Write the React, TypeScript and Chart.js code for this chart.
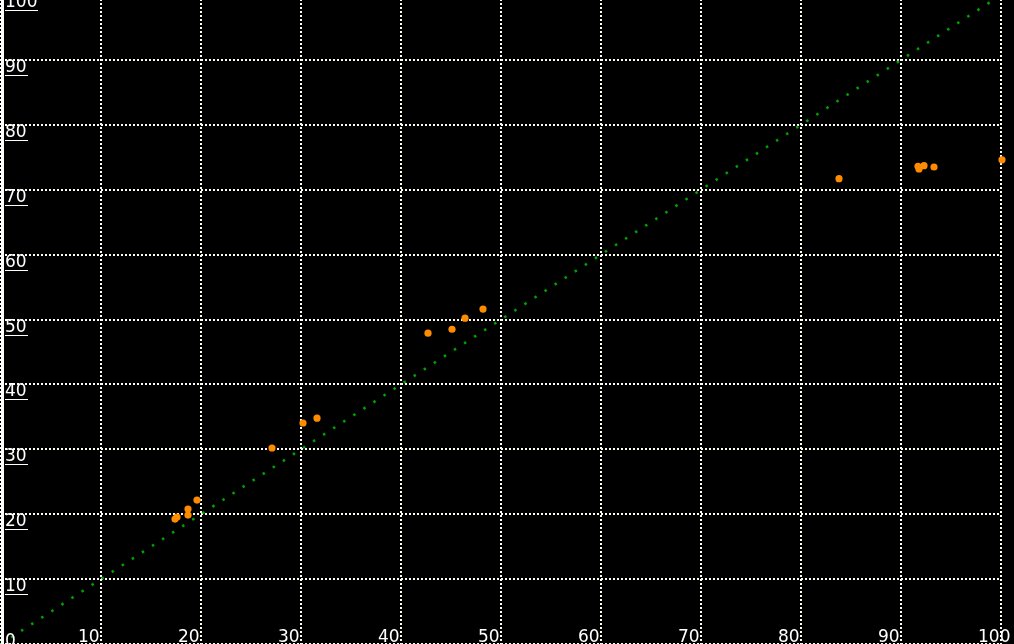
import React, { useEffect, useRef } from "react";
import { Chart, registerables } from "chart.js";

Chart.register(...registerables);

// Measured points (x, y)
const xValues = [17.4, 17.6, 18.7, 18.7, 19.6, 27.1, 30.2, 31.6, 42.7, 45.1, 46.4, 48.2, 83.8, 91.7, 91.8, 92.3, 93.3, 100.1];
const yValues = [19.25, 19.56, 19.87, 20.8, 22.18, 30.2, 34.05, 34.8, 47.9, 48.5, 50.2, 51.6, 71.7, 73.6, 73.2, 73.7, 73.5, 74.6];

// Reference line y = x
const refX = [0, 100];
const refY = [0, 100];

const xTickLabels = ["10", "20", "30", "40", "50", "60", "70", "80", "90", "100"];
const yTickLabels = ["0", "10", "20", "30", "40", "50", "60", "70", "80", "90", "100"];

const OFFSET_TOP = 10;
const PAGE_H = 644;

const labelPlugin = {
  id: "customLabels",
  afterDraw(chart: any) {
    const ctx = chart.ctx;
    const xs = chart.scales.x;
    const ys = chart.scales.y;
    ctx.save();
    ctx.fillStyle = "#ffffff";
    // solid left axis bar
    ctx.fillRect(1, 0, 3, chart.height);
    ctx.font = '17px "DejaVu Sans"';
    ctx.textBaseline = "alphabetic";
    ctx.textAlign = "left";
    const maxBase = PAGE_H + OFFSET_TOP + 2;
    yTickLabels.forEach((t) => {
      const gy = ys.getPixelForValue(Number(t));
      let base = gy + 12;
      if (base > maxBase) base = maxBase;
      ctx.fillText(t, 5, base);
      const w = ctx.measureText(t).width;
      ctx.fillRect(5, Math.round(base + 3), Math.round(w + 1), 1);
    });
    const gy0 = ys.getPixelForValue(0);
    xTickLabels.forEach((t) => {
      const gx = xs.getPixelForValue(Number(t));
      ctx.fillText(t, gx - 23, gy0 - 2);
    });
    ctx.restore();
  },
};

export default function App() {
  const canvasRef = useRef<HTMLCanvasElement | null>(null);

  useEffect(() => {
    if (!canvasRef.current) return;
    const gridColor = "#fffcf2";
    const chart = new Chart(canvasRef.current, {
      type: "scatter",
      data: {
        datasets: [
          {
            type: "line",
            data: refX.map((x, i) => ({ x, y: refY[i] })),
            borderColor: "#00a000",
            borderWidth: 2.6,
            borderDash: [2.5, 9.5],
            pointRadius: 0,
            fill: false,
            clip: false,
          } as any,
          {
            data: xValues.map((x, i) => ({ x, y: yValues[i] })),
            backgroundColor: "#ff8c00",
            borderWidth: 0,
            pointRadius: 3.6,
            clip: false,
          } as any,
        ],
      },
      options: {
        animation: false,
        responsive: true,
        maintainAspectRatio: false,
        layout: { autoPadding: false, padding: { left: 1, right: 13, top: 5, bottom: 16 } },
        plugins: { legend: { display: false }, tooltip: { enabled: false } },
        scales: {
          x: {
            type: "linear",
            min: 0,
            max: 100,
            ticks: { display: false, stepSize: 10 },
            grid: { color: gridColor, lineWidth: 2, drawTicks: false },
            border: { display: false, dash: [2, 2] },
          },
          y: {
            type: "linear",
            min: 0,
            max: 100,
            ticks: { display: false, stepSize: 10 },
            grid: { color: gridColor, lineWidth: 2, drawTicks: false },
            border: { display: false, dash: [2, 2] },
          },
        },
      } as any,
      plugins: [labelPlugin],
    });
    return () => chart.destroy();
  }, []);

  return (
    <div
      style={{
        position: "fixed",
        left: 0,
        top: 0,
        width: 1014,
        height: PAGE_H,
        overflow: "hidden",
        background: "#000",
      }}
    >
      <div style={{ position: "absolute", left: 0, top: -OFFSET_TOP, width: 1014, height: 670 }}>
        <canvas ref={canvasRef} />
      </div>
    </div>
  );
}
